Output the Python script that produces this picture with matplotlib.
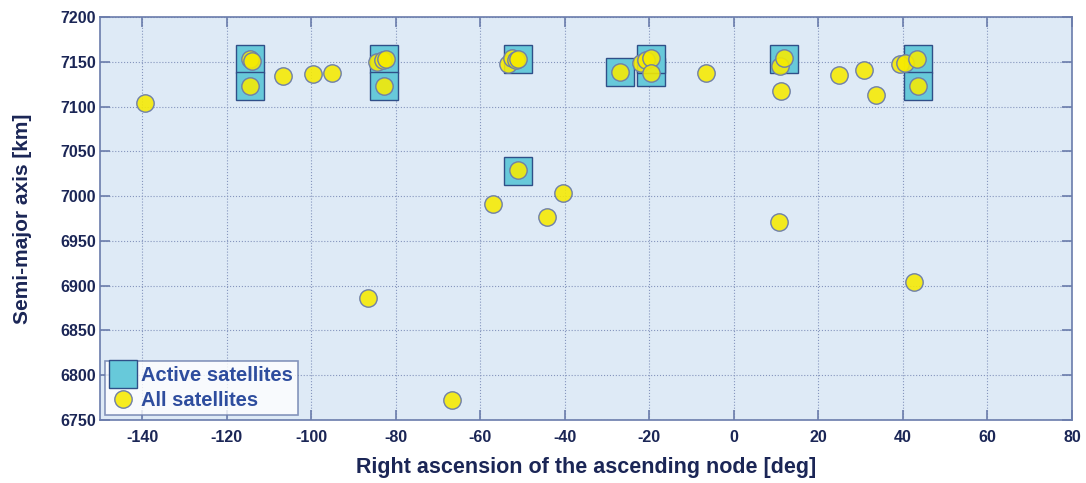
import matplotlib
matplotlib.use('Agg')
import matplotlib.pyplot as plt

plt.rcParams['font.family'] = ['Liberation Sans', 'DejaVu Sans']
plt.rcParams['axes.unicode_minus'] = False

# active satellites (RAAN [deg], semi-major axis [km])
active_raan = [-114.4, -114.4, -82.8, -82.8, -51.2, -51.2, -26.9, -19.6, -19.6, 11.9, 43.5, 43.5]
active_sma = [7153.4, 7122.7, 7153.4, 7122.7, 7153.4, 7028.5, 7138.8, 7138.8, 7153.4, 7153.4, 7153.4, 7122.7]

# all satellites
all_raan = [-139.4, -114.4, -114.1, -114.4, -106.7, -99.6, -95.0,
            -84.4, -83.1, -82.4, -82.9, -86.5,
            -53.4, -52.4, -51.6, -51.2, -51.2, -57.0, -44.3, -40.5, -66.6,
            -27.0, -22.1, -20.8, -19.6, -19.6, -6.7,
            10.6, 10.8, 11.9, 11.1, 24.9, 30.7, 33.6,
            39.3, 40.6, 43.3, 43.5, 42.7]
all_sma = [7103.6, 7153.0, 7151.0, 7123.0, 7134.3, 7136.5, 7138.0,
           7149.3, 7152.2, 7153.0, 7123.0, 6886.2,
           7147.4, 7154.0, 7152.2, 7153.0, 7028.8, 6991.4, 6976.5, 7003.8, 6771.8,
           7138.8, 7148.5, 7151.5, 7154.0, 7138.0, 7138.0,
           6971.6, 7144.8, 7153.7, 7117.5, 7135.4, 7140.3, 7113.0,
           7147.0, 7148.5, 7153.0, 7123.0, 6903.7]

xticks = list(range(-140, 81, 20))
yticks = list(range(6750, 7201, 50))

navy = '#1b2656'
spine = '#6a7cab'

fig = plt.figure(figsize=(10.86, 4.83), dpi=100)
ax = fig.add_axes([0.0921, 0.1304, 0.895, 0.8344])
ax.set_facecolor('#deeaf6')

ax.plot(active_raan, active_sma, 's', markersize=20, markerfacecolor='#67c9da',
        markeredgecolor='#2f4f88', markeredgewidth=1.0, linestyle='none',
        label='Active satellites', zorder=3)
ax.plot(all_raan, all_sma, 'o', markersize=12.5, markerfacecolor=(0.97, 0.92, 0.0, 0.88),
        markeredgecolor='#6f7fa8', markeredgewidth=1.0, linestyle='none',
        label='All satellites', zorder=4)

ax.set_xlim(-150, 80)
ax.set_ylim(6750, 7200)
ax.set_xticks(xticks)
ax.set_yticks(yticks)
ax.grid(True, linestyle=':', color='#8595bd', linewidth=0.8)
ax.set_axisbelow(True)

ax.tick_params(direction='in', length=7, width=1.2, color=spine, top=True, right=True,
               labelsize=11.5, labelcolor=navy)
ax.tick_params(axis='y', pad=3)
ax.tick_params(axis='x', pad=7)
for lab in ax.get_xticklabels() + ax.get_yticklabels():
    lab.set_fontweight('bold')
for s in ax.spines.values():
    s.set_color(spine)
    s.set_linewidth(1.2)

ax.set_xlabel('Right ascension of the ascending node [deg]', fontsize=15.5,
              fontweight='bold', color=navy, labelpad=9)
ax.set_ylabel('Semi-major axis [km]', fontsize=15, fontweight='bold', color=navy, labelpad=20)

leg = ax.legend(loc='lower left', fontsize=14.5, frameon=True, fancybox=False,
                borderpad=0.25, handletextpad=0.25, handlelength=1.3,
                borderaxespad=0.25, labelspacing=0.3)
leg.get_frame().set_edgecolor(spine)
leg.get_frame().set_linewidth(1.2)
for t in leg.get_texts():
    t.set_color('#2e4d9e')
    t.set_fontweight('bold')

fig.savefig('out.png', dpi=100)
plt.close(fig)
